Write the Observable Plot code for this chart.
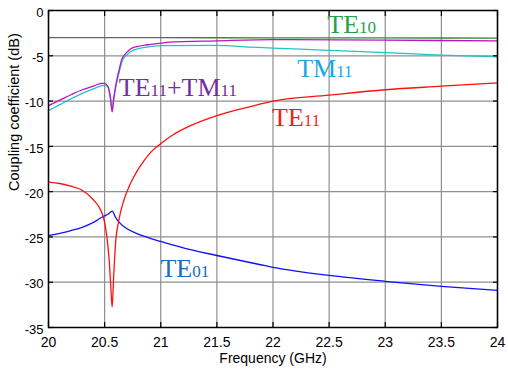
<!DOCTYPE html>
<html>
<head>
<meta charset="utf-8">
<script src="https://cdn.jsdelivr.net/npm/d3@7"></script>
<script src="https://cdn.jsdelivr.net/npm/@observablehq/plot@0.6"></script>
<style>
  html, body { margin: 0; padding: 0; background: white; }
  #chart { width: 508px; height: 377px; }
</style>
</head>
<body>
<div id="chart"></div>
<script>
// ---- tick values and labels ----
const xTicks = [20, 20.5, 21, 21.5, 22, 22.5, 23, 23.5, 24];
const xTickLabels = ["20", "20.5", "21", "21.5", "22", "22.5", "23", "23.5", "24"];
const yTicks = [0, -5, -10, -15, -20, -25, -30, -35];
const yTickLabels = ["0", "-5", "-10", "-15", "-20", "-25", "-30", "-35"];
const xLabel = "Frequency (GHz)";
const yLabel = "Coupling coefficient (dB)";

// ---- series (frequency in GHz, coupling in dB) ----
const te10F  = [20, 21, 22, 23, 24];
const te10dB = [-3.0, -3.0, -3.02, -3.03, -3.05];

const te11F  = [20, 20.1, 20.2, 20.3, 20.4, 20.45, 20.48, 20.5, 20.52, 20.54, 20.555, 20.567, 20.58, 20.597, 20.626, 20.67, 20.73, 20.79, 20.85, 20.9, 21, 21.1, 21.25, 21.5, 21.8, 22, 22.5, 23, 23.5, 24];
const te11dB = [-18.95, -19.1, -19.4, -19.85, -20.9, -21.7, -22.5, -23.4, -25.0, -27.5, -30.5, -32.75, -29.5, -25.75, -23.2, -21.0, -19.1, -17.7, -16.6, -15.8, -14.7, -13.8, -12.8, -11.6, -10.6, -10.0, -9.35, -8.75, -8.36, -7.98];

const te01F  = [20, 20.1, 20.2, 20.3, 20.4, 20.48, 20.53, 20.567, 20.6, 20.63, 20.7, 20.8, 20.93, 21, 21.2, 21.5, 21.9, 22, 22.5, 23, 23.5, 24];
const te01dB = [-24.85, -24.6, -24.3, -23.95, -23.4, -22.8, -22.5, -22.15, -22.9, -23.4, -24.1, -24.7, -25.25, -25.5, -26.2, -27.05, -28.1, -28.35, -29.25, -29.9, -30.45, -30.9];

const tm11F  = [20, 20.1, 20.2, 20.3, 20.4, 20.48, 20.5, 20.53, 20.55, 20.567, 20.58, 20.6, 20.63, 20.656, 20.7, 20.73, 20.8, 20.9, 21, 21.5, 21.8, 22, 22.5, 23, 23.5, 24];
const tm11dB = [-11.05, -10.4, -9.75, -9.15, -8.65, -8.3, -8.25, -8.5, -9.5, -11.0, -9.9, -8.4, -6.8, -5.6, -4.9, -4.55, -4.2, -4.0, -3.88, -3.85, -4.05, -4.15, -4.4, -4.65, -4.92, -5.12];

const sumF  = [20, 20.1, 20.2, 20.3, 20.4, 20.47, 20.5, 20.53, 20.55, 20.567, 20.58, 20.6, 20.63, 20.656, 20.7, 20.73, 20.8, 20.88, 21, 21.07, 21.5, 22, 23, 24];
const sumdB = [-10.5, -9.9, -9.3, -8.75, -8.35, -8.05, -8.05, -8.4, -9.5, -11.2, -9.8, -8.2, -6.5, -5.3, -4.6, -4.25, -3.95, -3.78, -3.6, -3.5, -3.35, -3.22, -3.28, -3.35];

// ---- annotation labels: [main, subscript] parts, anchored at (f, dB) ----
const labelParts = [
  [["TE", "10"]],
  [["TM", "11"]],
  [["TE", "11"]],
  [["TE", "11"], ["+TM", "11"]],
  [["TE", "01"]]
];
const labelF  = [22.484, 22.215, 21.992, 20.626, 20.997];
const labelDB = [-2.51, -7.29, -12.70, -9.46, -29.45];
const labelColor = ["#1ea34b", "#1aa8e0", "#ff1a1a", "#7030a0", "#1a6cc0"];

const rows = (F, D) => F.map((f, i) => ({f, db: D[i]}));
const labels = labelParts.map((p, i) => ({parts: p, f: labelF[i], db: labelDB[i], color: labelColor[i]}));

const lineOpts = {x: "f", y: "db", curve: "monotone-x", strokeWidth: 1.3};

const chart = Plot.plot({
  width: 508,
  height: 377,
  marginLeft: 48,
  marginRight: 11,
  marginTop: 10,
  marginBottom: 50,
  x: {domain: [20, 24]},
  y: {domain: [-35, 0]},
  style: {fontFamily: "'Liberation Sans', Arial, sans-serif", background: "white", color: "black"},
  marks: [
    Plot.gridX(xTicks, {stroke: "#8f8f8f", strokeOpacity: 1, strokeWidth: 1.2}),
    Plot.gridY(yTicks, {stroke: "#8f8f8f", strokeOpacity: 1, strokeWidth: 1.2}),
    Plot.line(rows(te01F, te01dB), {...lineOpts, stroke: "#1010ff"}),
    Plot.line(rows(te11F, te11dB), {...lineOpts, stroke: "#ff1010"}),
    Plot.line(rows(tm11F, tm11dB), {...lineOpts, stroke: "#20c4c8"}),
    Plot.line(rows(sumF, sumdB), {...lineOpts, stroke: "#c010c8"}),
    Plot.line(rows(te10F, te10dB), {...lineOpts, stroke: "#2e8b2e"}),
    Plot.frame({stroke: "black", strokeWidth: 1.5}),
    // inward ticks
    Plot.axisX(xTicks, {anchor: "bottom", tickSize: -5, tickFormat: () => "", label: null, strokeWidth: 1.2}),
    Plot.axisX(xTicks, {anchor: "top", tickSize: -5, tickFormat: () => "", label: null, strokeWidth: 1.2}),
    Plot.axisY(yTicks, {anchor: "left", tickSize: -5, tickFormat: () => "", label: null, strokeWidth: 1.2}),
    Plot.axisY(yTicks, {anchor: "right", tickSize: -5, tickFormat: () => "", label: null, strokeWidth: 1.2}),
    // tick labels
    Plot.axisX(xTicks, {anchor: "bottom", tickSize: 0, tickPadding: 10, fontSize: 14,
      tickFormat: d => xTickLabels[xTicks.indexOf(d)], label: null}),
    Plot.axisY(yTicks, {anchor: "left", tickSize: 0, tickPadding: 5, fontSize: 13, dy: 2,
      tickFormat: d => yTickLabels[yTicks.indexOf(d)], label: null}),
    // axis titles
    Plot.text([xLabel], {frameAnchor: "bottom", lineAnchor: "bottom", dy: 35.5, fontSize: 14, text: d => d}),
    Plot.text([yLabel], {frameAnchor: "left", rotate: -90, dx: -34, dy: 22, fontSize: 14.5, text: d => d}),
    // series annotations
    Plot.text(labels, {
      x: "f", y: "db", fill: "color",
      text: d => d.parts.map(p => p.join("")).join(""),
      textAnchor: "start", lineAnchor: "bottom",
      fontSize: 26, fontFamily: "'Liberation Serif', 'Times New Roman', serif",
      render(index, scales, values, dimensions, context, next) {
        const g = next(index, scales, values, dimensions, context);
        d3.select(g).selectAll("text").each(function(_, j) {
          const d = labels[index[j]];
          const t = d3.select(this);
          t.text(null);
          d.parts.forEach(([main, sub]) => {
            t.append("tspan").text(main);
            t.append("tspan").attr("font-size", 17).text(sub);
          });
        });
        return g;
      }
    })
  ]
});

document.getElementById("chart").appendChild(chart);
</script>
</body>
</html>
